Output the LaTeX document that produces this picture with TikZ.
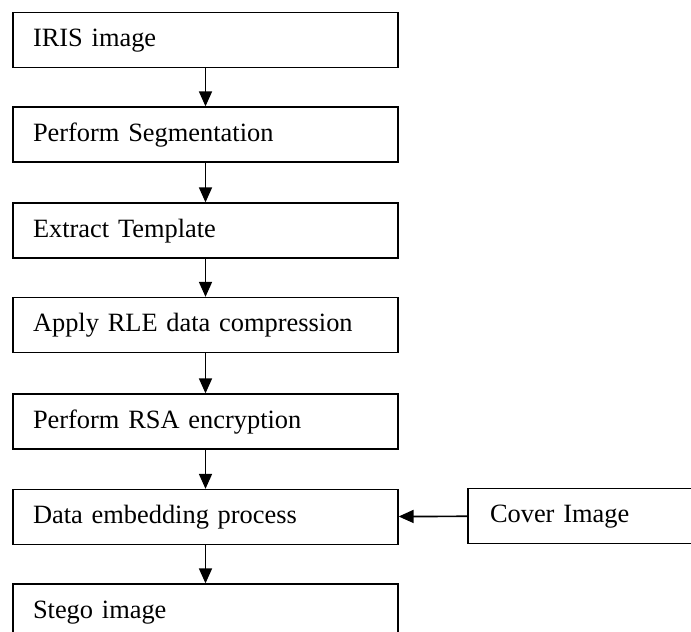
\documentclass[tikz,border=0pt]{standalone}
\usepackage{fontspec}
\setmainfont{Liberation Serif}
\usetikzlibrary{arrows.meta}
\begin{document}
\begin{tikzpicture}[x=1pt,y=-1pt,
  procbox/.style={draw=black, line width=1.3pt, rectangle, minimum width=385pt, minimum height=55pt,
    text width=345pt, align=left, inner xsep=20pt, inner ysep=0pt,
    font=\fontsize{26.4}{30}\selectfont, text height=18pt, text depth=5pt},
  coverbox/.style={procbox, minimum width=240pt, text width=196pt, inner xsep=22pt},
  flow/.style={line width=1.7pt, -{Triangle[length=15pt,width=13pt]}}]
\useasboundingbox (0,0) rectangle (691,632);
\clip (0,0) rectangle (691,632);
\node[procbox] (b1) at (205.5,40) {IRIS image};
\node[procbox] (b2) at (205.5,134.5) {Perform Segmentation};
\node[procbox] (b3) at (205.5,230.5) {Extract Template};
\node[procbox] (b4) at (205.5,325) {Apply RLE data compression};
\node[procbox] (b5) at (205.5,421.5) {Perform RSA encryption};
\node[procbox] (b6) at (205.5,517) {Data embedding process};
\node[procbox, minimum height=56pt] (b7) at (205.5,612) {Stego image};
\node[coverbox] (cv) at (588,516) {Cover Image};
\draw[flow] (b1) -- (b2);
\draw[flow] (b2) -- (b3);
\draw[flow] (b3) -- (b4);
\draw[flow] (b4) -- (b5);
\draw[flow] (b5) -- (b6);
\draw[flow] (b6) -- (b7);
\draw[flow] (cv) -- (b6);
\end{tikzpicture}
\end{document}
